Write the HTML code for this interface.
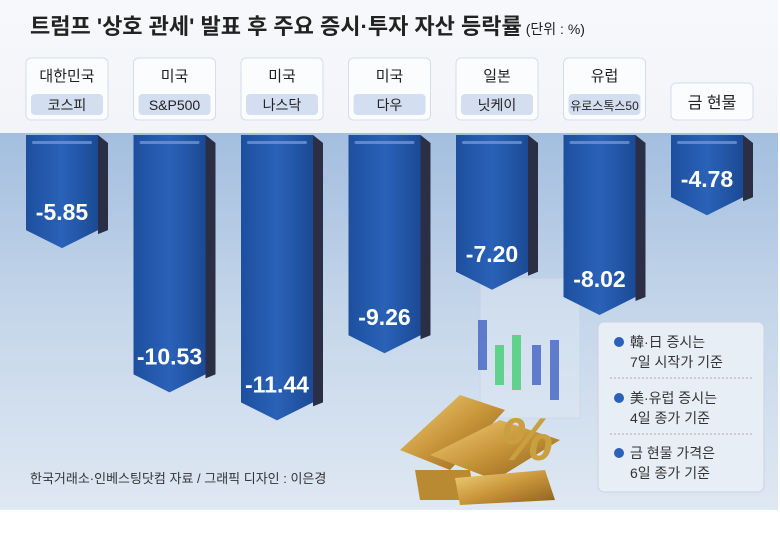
<!DOCTYPE html>
<html><head><meta charset="utf-8">
<style>
body{margin:0;width:780px;height:531px;overflow:hidden;background:#fff;font-family:"Liberation Sans","Noto Sans CJK KR",sans-serif;}
#wrap{position:relative;width:780px;height:531px;}
</style></head>
<body>
<div id="wrap">
<svg id="chart" width="780" height="531" xmlns="http://www.w3.org/2000/svg">
<defs>
<linearGradient id="bgTop" x1="0" y1="0" x2="0" y2="1"><stop offset="0" stop-color="#f7f8fb"/><stop offset="1" stop-color="#e4e9f1"/></linearGradient>
<linearGradient id="bgLow" x1="0" y1="0" x2="0" y2="1"><stop offset="0" stop-color="#a3bedf"/><stop offset="0.5" stop-color="#c6d7ea"/><stop offset="1" stop-color="#dfe8f3"/></linearGradient>
<linearGradient id="barG" x1="0" y1="0" x2="1" y2="0"><stop offset="0" stop-color="#1d4f9e"/><stop offset="0.5" stop-color="#2a62b8"/><stop offset="1" stop-color="#1b4a95"/></linearGradient>
<linearGradient id="gold" x1="0" y1="0" x2="1" y2="1"><stop offset="0" stop-color="#f1d27a"/><stop offset="0.5" stop-color="#c9953a"/><stop offset="1" stop-color="#8a5f1c"/></linearGradient>
</defs>
<rect x="0" y="0" width="778" height="510" fill="url(#bgTop)"/>
<rect x="0" y="133" width="778" height="377" fill="url(#bgLow)"/>
<text x="30" y="34" font-size="22" font-weight="bold" fill="#222">트럼프 '상호 관세' 발표 후 주요 증시·투자 자산 등락률<tspan font-size="14" font-weight="normal" dx="4">(단위 : %)</tspan></text>
<g id="deco1">
<rect x="480" y="278" width="100" height="140" fill="#e8eef7" opacity="0.35" stroke="#c4d0e2"/>
<rect x="478" y="320" width="9" height="50" fill="#4a69c4" opacity="0.85"/>
<rect x="495" y="345" width="9" height="40" fill="#4ccf7c" opacity="0.85"/>
<rect x="512" y="335" width="9" height="55" fill="#4ccf7c" opacity="0.85"/>
<rect x="532" y="345" width="9" height="40" fill="#4a69c4" opacity="0.85"/>
<rect x="550" y="340" width="9" height="60" fill="#4a69c4" opacity="0.85"/>
</g>
<g id="bars"></g>
<g id="deco">
<polygon points="400,450 460,395 505,410 450,470" fill="url(#gold)"/>
<polygon points="430,455 500,420 560,440 495,480" fill="url(#gold)"/>
<polygon points="415,470 470,470 475,500 420,500" fill="#b98a32"/>
<polygon points="455,478 545,470 555,500 460,505" fill="url(#gold)"/>
<text x="500" y="460" font-size="60" font-weight="bold" fill="#c9a040" font-style="italic">%</text>
</g>
<rect x="598" y="322" width="166" height="170" rx="6" fill="#e8eef6" stroke="#c7d3e3"/>
<g font-size="14" fill="#333">
<circle cx="619" cy="342" r="5" fill="#2a62b8"/><text x="630" y="347">韓·日 증시는</text><text x="630" y="367">7일 시작가 기준</text>
<line x1="610" y1="378" x2="752" y2="378" stroke="#aab" stroke-dasharray="2,2"/>
<circle cx="619" cy="398" r="5" fill="#2a62b8"/><text x="630" y="403">美·유럽 증시는</text><text x="630" y="423">4일 종가 기준</text>
<line x1="610" y1="434" x2="752" y2="434" stroke="#aab" stroke-dasharray="2,2"/>
<circle cx="619" cy="453" r="5" fill="#2a62b8"/><text x="630" y="458">금 현물 가격은</text><text x="630" y="478">6일 종가 기준</text>
</g>
<text x="30" y="483" font-size="13" fill="#333">한국거래소·인베스팅닷컴 자료 / 그래픽 디자인 : 이은경</text>
</svg>
</div>
<script>
const regions = ["대한민국","미국","미국","미국","일본","유럽",""];
const indices = ["코스피","S&P500","나스닥","다우","닛케이","유로스톡스50","금 현물"];
const values = [-5.85,-10.53,-11.44,-9.26,-7.20,-8.02,-4.78];
const ns="http://www.w3.org/2000/svg";
const g=document.getElementById('bars');
const x0=26, step=107.5, bw=72, side=10, topY=135;
function len(v){return 30.8*Math.abs(v)-67;}
function mk(t,a){const e=document.createElementNS(ns,t);for(const k in a)e.setAttribute(k,a[k]);return e;}
values.forEach((v,i)=>{
  const x=x0+i*step, L=Math.max(len(v),70), tip=topY+L, sh=tip-18;
  const cx=x+(bw+side)/2;
  const sideP=mk('polygon',{points:`${x+bw},${topY} ${x+bw+side},${topY+8} ${x+bw+side},${sh} ${x+bw},${sh+4}`,fill:'#2a2f45'});
  
  
  g.appendChild(sideP);
  const b=mk('polygon',{points:`${x},${topY} ${x+bw},${topY} ${x+bw},${sh} ${x+bw/2},${tip} ${x},${sh}`,fill:'url(#barG)'});
  
  
  g.appendChild(b);
  g.appendChild(mk('rect',{x:x+6,y:topY+6,width:bw-12,height:3,rx:1.5,fill:'#6e95d6',opacity:0.8}));
  const t=mk('text',{x:x+bw/2,y:tip-28,'text-anchor':'middle','font-size':23,'font-weight':'bold',fill:'#fff'});
  t.textContent=values[i].toFixed(2);
  
  
  g.appendChild(t);
  const hy = regions[i] ? 58 : 83;
  const box=mk('rect',{x:x,y:hy,width:bw+side,height:120-hy,rx:5,fill:'#fbfcfe',stroke:'#d5dde8'});
  
  
  g.appendChild(box);
  if(regions[i]){
    const r=mk('text',{x:cx,y:81,'text-anchor':'middle','font-size':15,fill:'#222'});
    r.textContent=regions[i];
    
    
    g.appendChild(r);
    g.appendChild(mk('rect',{x:x+5,y:94,width:bw+side-10,height:21,rx:4,fill:'#d3dff0'}));
    const s=mk('text',{x:cx,y:110,'text-anchor':'middle','font-size':indices[i].length>6?12:14,fill:'#222'});
    s.textContent=indices[i];
    
    
    g.appendChild(s);
  } else {
    const s=mk('text',{x:cx,y:108,'text-anchor':'middle','font-size':16,fill:'#222'});
    s.textContent=indices[i];
    
    
    g.appendChild(s);
  }
});
</script>
</body></html>
